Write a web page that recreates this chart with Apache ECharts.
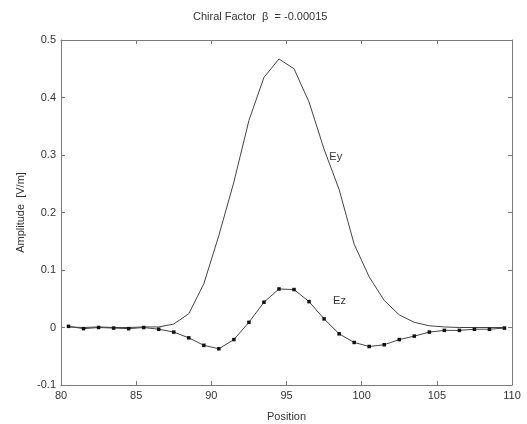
<!DOCTYPE html>
<html>
<head>
<meta charset="utf-8">
<script src="https://cdn.jsdelivr.net/npm/echarts@6/dist/echarts.min.js"></script>
<style>html,body{margin:0;padding:0;background:#fff}#c{width:527px;height:424px}</style>
</head>
<body>
<div id="c"></div>
<script>
var positions = [80.5,81.5,82.5,83.5,84.5,85.5,86.5,87.5,88.5,89.5,90.5,91.5,92.5,93.5,94.5,95.5,96.5,97.5,98.5,99.5,100.5,101.5,102.5,103.5,104.5,105.5,106.5,107.5,108.5,109.5];
var ey = [0.001,0.000,0.001,0.000,0.000,0.001,0.001,0.006,0.024,0.076,0.160,0.253,0.360,0.435,0.467,0.450,0.392,0.310,0.240,0.145,0.088,0.047,0.022,0.009,0.003,0.001,0.000,0.000,0.000,0.000];
var ez = [0.002,-0.002,0.000,-0.001,-0.002,0.000,-0.003,-0.008,-0.018,-0.031,-0.037,-0.021,0.009,0.044,0.067,0.066,0.045,0.015,-0.011,-0.026,-0.033,-0.030,-0.021,-0.015,-0.008,-0.005,-0.005,-0.003,-0.003,-0.001];
var xTicks = [80,85,90,95,100,105,110];
var yTicks = ['-0.1','0','0.1','0.2','0.3','0.4','0.5'];
var titleText = 'Chiral Factor  \u03b2  = -0.00015';
var labelEy = {text:'Ey', x:97.85, y:0.296};
var labelEz = {text:'Ez', x:98.1, y:0.047};

var FONT = 'Liberation Sans';
var axisCol = '#7a7a7a';
var txtCol = '#333';
var chart = echarts.init(document.getElementById('c'), null, {renderer:'canvas'});
function pair(xs, ys){ return xs.map(function(x,i){return [x, ys[i]];}); }
var axCommon = {
  axisLine:{show:true, onZero:false, lineStyle:{color:axisCol, width:1}},
  axisTick:{show:true, inside:true, length:4, lineStyle:{color:axisCol}},
  splitLine:{show:false}
};
chart.setOption({
  animation:false,
  backgroundColor:'#fff',
  title:{text:titleText, left:188, top:6, textStyle:{fontFamily:FONT, fontSize:11, fontWeight:'normal', color:txtCol}},
  grid:{left:61, right:15, top:40, bottom:39, containLabel:false, outerBoundsMode:'none'},
  xAxis:[
    Object.assign({type:'value', min:80, max:110, interval:5, position:'bottom',
      name:'Position', nameLocation:'middle', nameGap:26,
      nameTextStyle:{fontFamily:FONT, fontSize:11, color:txtCol},
      axisLabel:{fontFamily:FONT, fontSize:11, color:txtCol, margin:5,
        formatter:function(v){ return xTicks.indexOf(v)>=0 ? String(v) : ''; }}}, axCommon),
    Object.assign({type:'value', min:80, max:110, interval:5, position:'top', axisLabel:{show:false}}, axCommon)
  ],
  yAxis:[
    Object.assign({type:'value', min:-0.1, max:0.5, interval:0.1, position:'left',
      name:'Amplitude  [V/m]', nameLocation:'middle', nameGap:31,
      nameTextStyle:{fontFamily:FONT, fontSize:11, color:txtCol},
      axisLabel:{fontFamily:FONT, fontSize:11, color:txtCol, margin:5,
        formatter:function(v){ var s = String(+v.toFixed(1)); return yTicks.indexOf(s)>=0 ? s : ''; }}}, axCommon),
    Object.assign({type:'value', min:-0.1, max:0.5, interval:0.1, position:'right', axisLabel:{show:false}}, axCommon)
  ],
  series:[
    {type:'line', name:'Ey', data:pair(positions, ey), showSymbol:false, symbol:'none',
      lineStyle:{color:'#444', width:1}, xAxisIndex:0, yAxisIndex:0},
    {type:'line', name:'Ez', data:pair(positions, ez), symbol:'rect', symbolSize:3.5, showSymbol:true,
      itemStyle:{color:'#111'}, lineStyle:{color:'#444', width:1}, xAxisIndex:0, yAxisIndex:0}
  ]
});
function place(l){
  var p = chart.convertToPixel({xAxisIndex:0, yAxisIndex:0}, [l.x, l.y]);
  return {type:'text', x:p[0], y:p[1], style:{text:l.text, fontFamily:FONT, fontSize:11, fill:txtCol, textVerticalAlign:'middle', verticalAlign:'middle'}};
}
chart.setOption({graphic:[place(labelEy), place(labelEz)]});
</script>
</body>
</html>
